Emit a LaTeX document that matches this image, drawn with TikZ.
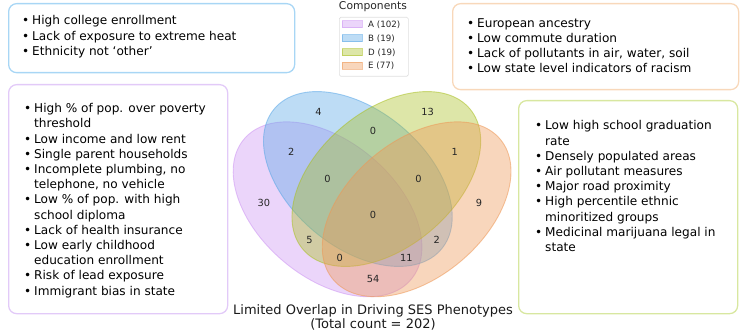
\documentclass[tikz,border=0pt]{standalone}
\usepackage{fontspec}
\setmainfont{DejaVu Sans}
\definecolor{cA}{RGB}{205,150,242}
\definecolor{cB}{RGB}{90,167,230}
\definecolor{cD}{RGB}{170,192,37}
\definecolor{cE}{RGB}{237,152,87}
\definecolor{bA}{RGB}{226,202,248}
\definecolor{bB}{RGB}{168,214,245}
\definecolor{bD}{RGB}{216,231,160}
\definecolor{bE}{RGB}{248,216,186}
\newcommand{\bul}{\makebox[10pt][l]{\textbullet}}
\newcommand{\cnt}{\hspace*{10pt}}
\begin{document}
\begin{tikzpicture}[x=1pt,y=1pt,
  infobox/.style={draw, rounded corners=8pt, line width=1.3pt, anchor=north west, inner sep=0pt},
  infotext/.style={font=\fontsize{12.1}{15.2}\selectfont, align=left, inner sep=0pt, anchor=west},
  vennset/.style={fill=#1, fill opacity=0.4, draw=#1, draw opacity=0.55, line width=0.9pt},
  vennlbl/.style={font=\fontsize{9.8}{10}\selectfont, text=black!85, inner sep=0pt},
  legpatch/.style={fill=#1, fill opacity=0.4, draw=#1, draw opacity=0.55, line width=0.6pt, minimum width=20pt, minimum height=7pt, inner sep=0pt, anchor=west},
  legtext/.style={font=\fontsize{8.7}{9}\selectfont, inner sep=0pt, anchor=west, text=black!85}]
\useasboundingbox (0,0) rectangle (747,335);

% Venn diagram
\begin{scope}[shift={(221.5pt,4.5pt)}, x=303pt, y=303pt]
  \path[vennset=cA, rotate around={140:(0.350,0.400)}] (0.350,0.400) ellipse [x radius=0.36, y radius=0.225];
  \path[vennset=cB, rotate around={140:(0.450,0.500)}] (0.450,0.500) ellipse [x radius=0.36, y radius=0.225];
  \path[vennset=cD, rotate around={40:(0.544,0.500)}] (0.544,0.500) ellipse [x radius=0.36, y radius=0.225];
  \path[vennset=cE, rotate around={40:(0.644,0.400)}] (0.644,0.400) ellipse [x radius=0.36, y radius=0.225];
  \node[vennlbl] (n0001) at (0.85,0.42) {9};
  \node[vennlbl] (n0010) at (0.68,0.72) {13};
  \node[vennlbl] (n0011) at (0.77,0.59) {1};
  \node[vennlbl] (n0100) at (0.32,0.72) {4};
  \node[vennlbl] (n0101) at (0.71,0.30) {2};
  \node[vennlbl] (n0110) at (0.50,0.66) {0};
  \node[vennlbl] (n0111) at (0.65,0.50) {0};
  \node[vennlbl] (n1000) at (0.14,0.42) {30};
  \node[vennlbl] (n1001) at (0.50,0.17) {54};
  \node[vennlbl] (n1010) at (0.29,0.30) {5};
  \node[vennlbl] (n1011) at (0.39,0.24) {0};
  \node[vennlbl] (n1100) at (0.23,0.59) {2};
  \node[vennlbl] (n1101) at (0.61,0.24) {11};
  \node[vennlbl] (n1110) at (0.35,0.50) {0};
  \node[vennlbl] (n1111) at (0.50,0.38) {0};
\end{scope}

% Title
\node[font=\fontsize{13}{14.3}\selectfont, align=center, inner sep=0pt, text=black!90] (title) at (373,17.8)
  {Limited Overlap in Driving SES Phenotypes\\(Total count = 202)};

% Legend
\node[font=\fontsize{10.75}{12}\selectfont, inner sep=0pt, text=black!85] (legtitle) at (373,328.5) {Components};
\node[draw=black!13, rounded corners=1.5pt, line width=0.6pt, anchor=north west, minimum width=69pt, minimum height=59pt, inner sep=0pt] (legbox) at (339,318) {};
\node[legpatch=cA] (pA) at (342,310.7) {};
\node[legpatch=cB] (pB) at (342,296.7) {};
\node[legpatch=cD] (pD) at (342,282.7) {};
\node[legpatch=cE] (pE) at (342,269) {};
\node[legtext] (tA) at (368,310.7) {A (102)};
\node[legtext] (tB) at (368,296.7) {B (19)};
\node[legtext] (tD) at (368,282.7) {D (19)};
\node[legtext] (tE) at (368,269) {E (77)};

% Info boxes
\node[infobox, draw=bB, minimum width=286pt, minimum height=69pt] (boxB) at (8,332) {};
\node[infotext] (txtB) at (22,298.3) {\bul High college enrollment\\\bul Lack of exposure to extreme heat\\\bul Ethnicity not ‘other’};

\node[infobox, draw=bA, minimum width=219pt, minimum height=229pt] (boxA) at (8,251) {};
\node[infotext] (txtA) at (24,134.5) {\bul High \% of pop. over poverty\\\cnt threshold\\\bul Low income and low rent\\\bul Single parent households\\\bul Incomplete plumbing, no\\\cnt telephone, no vehicle\\\bul Low \% of pop. with high\\\cnt school diploma\\\bul Lack of health insurance\\\bul Low early childhood\\\cnt education enrollment\\\bul Risk of lead exposure\\\bul Immigrant bias in state};

\node[infobox, draw=bE, minimum width=286pt, minimum height=86pt] (boxE) at (452,332) {};
\node[infotext] (txtE) at (467,289.5) {\bul European ancestry\\\bul Low commute duration\\\bul Lack of pollutants in air, water, soil\\\bul Low state level indicators of racism};

\node[infobox, draw=bD, minimum width=219pt, minimum height=213pt] (boxD) at (518,235) {};
\node[infotext] (txtD) at (535,148.8) {\bul Low high school graduation\\\cnt rate\\\bul Densely populated areas\\\bul Air pollutant measures\\\bul Major road proximity\\\bul High percentile ethnic\\\cnt minoritized groups\\\bul Medicinal marijuana legal in\\\cnt state};
\end{tikzpicture}
\end{document}
